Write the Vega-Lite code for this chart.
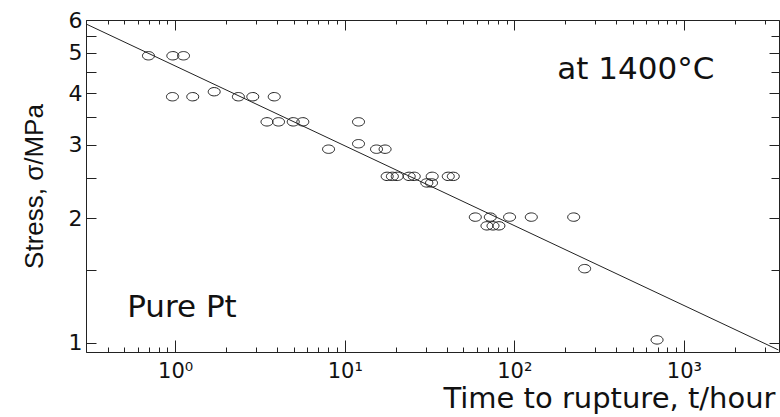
{
  "$schema": "https://vega.github.io/schema/vega-lite/v6.json",
  "width": 693,
  "height": 332,
  "autosize": {"type": "none"},
  "padding": {"left": 86, "top": 20, "right": 1, "bottom": 65},
  "background": "white",
  "config": {
    "view": {"stroke": null},
    "axis": {
      "grid": false,
      "domainColor": "#222",
      "tickColor": "#222",
      "domainWidth": 1,
      "tickWidth": 1,
      "labelColor": "#111",
      "titleColor": "#111",
      "labelFont": "DejaVu Sans",
      "titleFont": "DejaVu Sans",
      "titleFontWeight": "normal"
    }
  },
  "datasets": {
    "pts": [
      {"t": 0.696, "s": 4.92}, {"t": 0.969, "s": 4.92}, {"t": 1.12, "s": 4.92},
      {"t": 0.964, "s": 3.92}, {"t": 1.27, "s": 3.92}, {"t": 1.70, "s": 4.03},
      {"t": 2.36, "s": 3.92}, {"t": 2.87, "s": 3.92}, {"t": 3.84, "s": 3.92},
      {"t": 3.48, "s": 3.41}, {"t": 4.07, "s": 3.41}, {"t": 4.97, "s": 3.41}, {"t": 5.66, "s": 3.41},
      {"t": 12.06, "s": 3.41}, {"t": 8.03, "s": 2.93}, {"t": 12.06, "s": 3.02},
      {"t": 15.4, "s": 2.93}, {"t": 17.3, "s": 2.93},
      {"t": 17.8, "s": 2.52}, {"t": 19.1, "s": 2.52}, {"t": 20.4, "s": 2.52}, {"t": 24.0, "s": 2.52},
      {"t": 25.7, "s": 2.52}, {"t": 32.8, "s": 2.52}, {"t": 40.8, "s": 2.52}, {"t": 43.7, "s": 2.52},
      {"t": 30.5, "s": 2.43}, {"t": 32.5, "s": 2.43},
      {"t": 58.9, "s": 2.01}, {"t": 72.2, "s": 2.01}, {"t": 93.8, "s": 2.01}, {"t": 126, "s": 2.01}, {"t": 224, "s": 2.01},
      {"t": 69.0, "s": 1.915}, {"t": 74.9, "s": 1.915}, {"t": 81.2, "s": 1.915},
      {"t": 260, "s": 1.51},
      {"t": 695, "s": 1.017}
    ],
    "fit": [
      {"t": 0.298, "s": 5.87},
      {"t": 3608, "s": 0.962}
    ],
    "lab1": [{"t": 179.4, "s": 4.33, "label": "at 1400°C"}],
    "lab2": [{"t": 0.521, "s": 1.155, "label": "Pure Pt"}]
  },
  "layer": [
    {
      "data": {"name": "pts"},
      "mark": {
        "type": "point",
        "shape": "M -1 0 A 1 0.7 0 1 0 1 0 A 1 0.7 0 1 0 -1 0 Z",
        "size": 144,
        "filled": false,
        "stroke": "#222",
        "strokeWidth": 1,
        "opacity": 1
      },
      "encoding": {
        "x": {
          "field": "t", "type": "quantitative",
          "scale": {"type": "log", "domain": [0.298, 3640], "nice": false},
          "axis": {
            "orient": "bottom",
            "values": [1, 10, 100, 1000],
            "labelExpr": "datum.value == 1 ? '10⁰' : datum.value == 10 ? '10¹' : datum.value == 100 ? '10²' : '10³'",
            "tickSize": -12,
            "labelPadding": 20,
            "labelFontSize": 21,
            "title": "Time to rupture, t/hour",
            "titleFontSize": 29,
            "titleX": 689,
            "titleY": 55,
            "titleAlign": "right",
            "titleBaseline": "alphabetic"
          }
        },
        "y": {
          "field": "s", "type": "quantitative",
          "scale": {"type": "log", "domain": [0.951, 6], "nice": false},
          "axis": {
            "orient": "left",
            "values": [1, 2, 3, 4, 5, 6],
            "format": "d",
            "tickSize": -10,
            "labelPadding": 14,
            "labelFontSize": 22,
            "title": "Stress, σ/MPa",
            "titleFont": "Liberation Sans",
            "titleFontSize": 26,
            "titleX": -44,
            "titleY": 166,
            "titleAngle": 270,
            "titleAlign": "center",
            "titleBaseline": "alphabetic"
          }
        }
      }
    },
    {
      "data": {"name": "fit"},
      "mark": {"type": "line", "color": "#222", "strokeWidth": 1, "clip": true},
      "encoding": {
        "x": {
          "field": "t", "type": "quantitative",
          "scale": {"type": "log", "domain": [0.298, 3640], "nice": false},
          "axis": {
            "orient": "bottom",
            "values": [0.3, 0.4, 0.5, 0.6, 0.7, 0.8, 0.9, 2, 3, 4, 5, 6, 7, 8, 9, 20, 30, 40, 50, 60, 70, 80, 90, 200, 300, 400, 500, 600, 700, 800, 900, 2000, 3000],
            "tickSize": -5,
            "labels": false,
            "domain": false,
            "title": null
          }
        },
        "y": {
          "field": "s", "type": "quantitative",
          "scale": {"type": "log", "domain": [0.951, 6], "nice": false},
          "axis": {
            "orient": "left",
            "values": [1.5, 2.5, 3.5, 4.5, 5.5],
            "tickSize": -10,
            "labels": false,
            "domain": false,
            "title": null
          }
        }
      }
    },
    {
      "data": {"name": "lab1"},
      "mark": {"type": "text", "align": "left", "baseline": "alphabetic", "font": "DejaVu Sans", "fontSize": 31, "color": "#111"},
      "encoding": {
        "x": {
          "field": "t", "type": "quantitative",
          "scale": {"type": "log", "domain": [0.298, 3640], "nice": false},
          "axis": {
            "orient": "top",
            "values": [1, 10, 100, 1000],
            "tickSize": -10,
            "labels": false,
            "title": null
          }
        },
        "y": {
          "field": "s", "type": "quantitative",
          "scale": {"type": "log", "domain": [0.951, 6], "nice": false},
          "axis": {
            "orient": "right",
            "values": [1, 2, 3, 4, 5, 6],
            "tickSize": -10,
            "labels": false,
            "title": null
          }
        },
        "text": {"field": "label"}
      }
    },
    {
      "data": {"name": "lab2"},
      "mark": {"type": "text", "align": "left", "baseline": "alphabetic", "font": "DejaVu Sans", "fontSize": 31, "color": "#111"},
      "encoding": {
        "x": {
          "field": "t", "type": "quantitative",
          "scale": {"type": "log", "domain": [0.298, 3640], "nice": false},
          "axis": {
            "orient": "top",
            "values": [0.3, 0.4, 0.5, 0.6, 0.7, 0.8, 0.9, 2, 3, 4, 5, 6, 7, 8, 9, 20, 30, 40, 50, 60, 70, 80, 90, 200, 300, 400, 500, 600, 700, 800, 900, 2000, 3000],
            "tickSize": -4,
            "labels": false,
            "domain": false,
            "title": null
          }
        },
        "y": {
          "field": "s", "type": "quantitative",
          "scale": {"type": "log", "domain": [0.951, 6], "nice": false},
          "axis": {
            "orient": "right",
            "values": [1.5, 2.5, 3.5, 4.5, 5.5],
            "tickSize": -8,
            "labels": false,
            "domain": false,
            "title": null
          }
        },
        "text": {"field": "label"}
      }
    }
  ],
  "resolve": {"axis": {"x": "independent", "y": "independent"}}
}
